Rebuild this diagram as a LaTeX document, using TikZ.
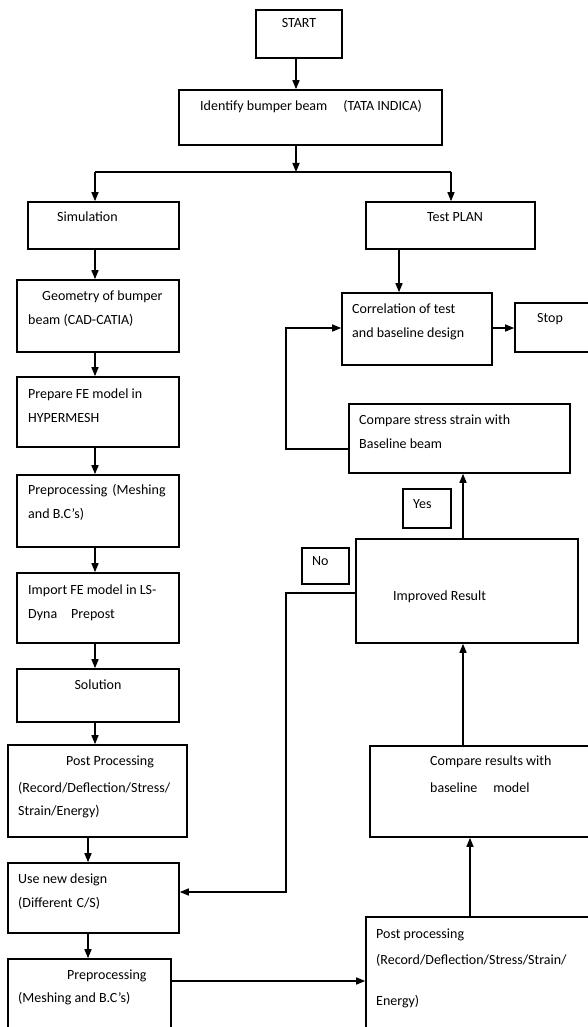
\documentclass[tikz,border=0pt]{standalone}
\usepackage{fontspec}
\setmainfont{Carlito}
\usetikzlibrary{arrows.meta,fit}
\begin{document}
\begin{tikzpicture}[x=1pt,y=-1pt,
  box/.style={draw, line width=1.6pt, inner sep=0pt, fit={#1}},
  txt/.style={inner sep=0pt, anchor=mid west, font=\fontsize{14}{16}\selectfont},
  ctxt/.style={txt, anchor=mid},
  arr/.style={line width=1.4pt, -{Triangle[length=9pt,width=7pt]}},
  ln/.style={line width=1.4pt}]
\useasboundingbox (0,0) rectangle (588,1027);
\clip (0,0) rectangle (588,1027);
% boxes
\node[box={(256,10) (342,58)}] (start) {};
\node[box={(179,90) (442,145)}] (ident) {};
\node[box={(28,202) (179,249)}] (sim) {};
\node[box={(366,202) (535,249)}] (test) {};
\node[box={(17,280) (179,352)}] (geom) {};
\node[box={(17,377) (179,447)}] (prep) {};
\node[box={(17,475) (179,547)}] (pre1) {};
\node[box={(17,573) (179,643)}] (imp) {};
\node[box={(17,669) (179,722)}] (sol) {};
\node[box={(8,745) (187,837)}] (post1) {};
\node[box={(8,863) (179,933)}] (usenew) {};
\node[box={(8,959) (171,1045)}] (pre2) {};
\node[box={(342,293) (492,365)}] (corr) {};
\node[box={(515,303) (600,352)}] (stop) {};
\node[box={(349,404) (570,473)}] (cmps) {};
\node[box={(403,489) (451,528)}] (yes) {};
\node[box={(302,548) (349,584)}] (no) {};
\node[box={(356,539) (578,643)}] (impr) {};
\node[box={(370,746) (600,837)}] (cmpr) {};
\node[box={(366,917) (600,1045)}] (post2) {};
% texts
\node[ctxt] (tstart) at (299,25) {START};
\node[txt] (tident) at (200,108) {Identify bumper beam\hspace{16pt}(TATA INDICA)};
\node[txt] (tsim) at (57,219) {Simulation};
\node[ctxt] (ttest) at (455,219) {Test PLAN};
\node[txt] (tgeom1) at (42,298) {Geometry of bumper};
\node[txt] (tgeom2) at (28,322) {beam (CAD-CATIA)};
\node[txt] (tprep1) at (28,396) {Prepare FE model in};
\node[txt] (tprep2) at (28,420) {HYPERMESH};
\node[txt] (tpre11) at (28,492) {Preprocessing\hspace{5pt}(Meshing};
\node[txt] (tpre12) at (28,516) {and B.C's)};
\node[txt] (timp1) at (28,592) {Import FE model in LS-};
\node[txt] (timp2) at (28,616) {Dyna\hspace{14pt}Prepost};
\node[ctxt] (tsol) at (98,687) {Solution};
\node[ctxt] (tpost11) at (110,763) {Post Processing};
\node[txt] (tpost12) at (18,790) {(Record/Deflection/Stress/};
\node[txt] (tpost13) at (18,813) {Strain/Energy)};
\node[txt] (tuse1) at (18,881) {Use new design};
\node[txt] (tuse2) at (18,905) {(Different\hspace{4pt}C/S)};
\node[txt] (tpre21) at (67,977) {Preprocessing};
\node[txt] (tpre22) at (18,1000) {(Meshing and B.C's)};
\node[txt] (tcorr1) at (352,311) {Correlation of test};
\node[txt] (tcorr2) at (352,335) {and baseline design};
\node[txt] (tstop) at (537,320) {Stop};
\node[txt] (tcmps1) at (359,422) {Compare stress strain with};
\node[txt] (tcmps2) at (359,446) {Baseline beam};
\node[txt] (tyes) at (413,506) {Yes};
\node[txt] (tno) at (312,563) {No};
\node[txt] (timpr) at (393,598) {Improved Result};
\node[txt] (tcmpr1) at (430,763) {Compare results with};
\node[txt] (tcmpr2) at (430,790) {baseline\hspace{16pt}model};
\node[txt] (tpost21) at (376,936) {Post processing};
\node[txt] (tpost22) at (376,962) {(Record/Deflection/Stress/Strain/};
\node[txt] (tpost23) at (376,1003) {Energy)};
% connectors
\coordinate (j) at (296,172);
\coordinate (jl) at (95,172);
\coordinate (jr) at (451,172);
\draw[arr] (start.south -| j) -- (ident.north -| j);
\draw[arr] (ident.south -| j) -- (j);
\draw[ln] (jl) -- (jr);
\draw[arr] (jl) -- (sim.north -| jl);
\draw[arr] (jr) -- (test.north -| jr);
\coordinate (cl) at (95,0);
\draw[arr] (sim.south -| cl) -- (geom.north -| cl);
\draw[arr] (geom.south -| cl) -- (prep.north -| cl);
\draw[arr] (prep.south -| cl) -- (pre1.north -| cl);
\draw[arr] (pre1.south -| cl) -- (imp.north -| cl);
\draw[arr] (imp.south -| cl) -- (sol.north -| cl);
\draw[arr] (sol.south -| cl) -- (post1.north -| cl);
\coordinate (cl2) at (88,0);
\draw[arr] (post1.south -| cl2) -- (usenew.north -| cl2);
\draw[arr] (usenew.south -| cl2) -- (pre2.north -| cl2);
\coordinate (h1) at (0,981);
\draw[arr] (pre2.east |- h1) -- (post2.west |- h1);
\coordinate (v1) at (470,0);
\draw[arr] (post2.north -| v1) -- (cmpr.south -| v1);
\coordinate (v2) at (463,0);
\draw[arr] (cmpr.north -| v2) -- (impr.south -| v2);
\draw[arr] (impr.north -| v2) -- (cmps.south -| v2);
\coordinate (tv) at (399,0);
\draw[arr] (test.south -| tv) -- (corr.north -| tv);
\coordinate (h2) at (0,328);
\draw[arr] (corr.east |- h2) -- (stop.west |- h2);
\coordinate (lp1) at (286,449);
\coordinate (lp2) at (286,328);
\draw[arr] (cmps.west |- lp1) -- (lp1) -- (lp2) -- (corr.west |- lp2);
\coordinate (np1) at (286,593);
\coordinate (np2) at (286,892);
\draw[arr] (impr.west |- np1) -- (np1) -- (np2) -- (usenew.east |- np2);
\end{tikzpicture}
\end{document}
